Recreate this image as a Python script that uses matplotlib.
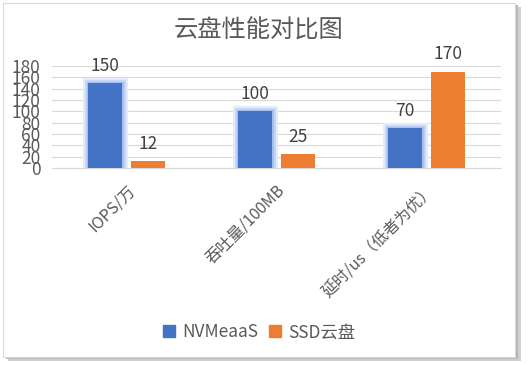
import matplotlib
matplotlib.use("Agg")
import matplotlib.pyplot as plt
import matplotlib.patheffects as pe
from matplotlib.patches import Rectangle, Patch
import numpy as np

plt.rcParams['font.family'] = ['Noto Sans CJK SC', 'DejaVu Sans']

categories = ['IOPS/万', '吞吐量/100MB', '延时/us（低者为优）']
nvme_values = [150, 100, 70]
ssd_values = [12, 25, 170]
series_names = ['NVMeaaS', 'SSD云盘']
yticks = [0, 20, 40, 60, 80, 100, 120, 140, 160, 180]

blue = '#4472C4'
orange = '#ED7D31'
text_color = '#595959'

fig = plt.figure(figsize=(5.29, 3.65), dpi=100)
fig.patch.set_facecolor('white')

# chart frame with a soft shadow
for off, col in [(0.010, '#d0d0d0'), (0.006, '#b8b8b8')]:
    fig.patches.append(Rectangle((0.006 + off, 0.022 - off), 0.968, 0.970,
                                 transform=fig.transFigure, facecolor=col,
                                 edgecolor='none', zorder=-2))
fig.patches.append(Rectangle((0.006, 0.022), 0.968, 0.970, transform=fig.transFigure,
                             facecolor='white', edgecolor='#d9d9d9', linewidth=0.8, zorder=-1))

ax = fig.add_axes([0.098, 0.5397, 0.849, 0.2795])
ax.set_facecolor('none')
ax.set_zorder(2)

x = np.arange(len(categories))
w = 0.227
gap = 0.03
glow = [pe.Stroke(linewidth=8, foreground='#e4ecfc'),
        pe.Stroke(linewidth=5, foreground='#c8d8f8'),
        pe.Stroke(linewidth=2.5, foreground='#a6bff3'),
        pe.Normal()]
b1 = ax.bar(x - w / 2 - gap, nvme_values, w, color=blue, zorder=3)
for p in b1:
    p.set_path_effects(glow)
b2 = ax.bar(x + w / 2 + gap, ssd_values, w, color=orange, zorder=3)

for bars in (b1, b2):
    for p in bars:
        ax.annotate('{:d}'.format(int(p.get_height())),
                    (p.get_x() + p.get_width() / 2, p.get_height()),
                    xytext=(0, 6), textcoords='offset points', ha='center', va='bottom',
                    fontsize=12.5, color='#404040')

ax.set_xlim(-0.5, len(categories) - 0.5)
ax.set_ylim(0, 180)
ax.set_yticks(yticks)
ax.set_yticklabels([str(v) for v in yticks], fontsize=12.5, color=text_color)
ax.tick_params(axis='y', length=0, pad=8)
ax.tick_params(axis='x', length=0, pad=10)
ax.set_xticks(x)
ax.set_xticklabels(categories, rotation=45, ha='right', rotation_mode='anchor',
                   fontsize=11.5, color=text_color)
ax.grid(axis='y', color='#d9d9d9', linewidth=0.8, zorder=0)
ax.set_axisbelow(True)
for s in ['top', 'right', 'left']:
    ax.spines[s].set_visible(False)
ax.spines['bottom'].set_color('#d9d9d9')

fig.text(0.488, 0.915, '云盘性能对比图', ha='center', va='center', fontsize=17.5, color=text_color)

handles = [Patch(color=blue), Patch(color=orange)]
fig.legend(handles=handles, labels=series_names, loc='center', bbox_to_anchor=(0.49, 0.09),
           ncol=2, frameon=False, fontsize=12.5, handlelength=0.7, handleheight=0.7,
           handletextpad=0.4, columnspacing=0.6, labelcolor=text_color)

fig.savefig('out.png', dpi=100)
